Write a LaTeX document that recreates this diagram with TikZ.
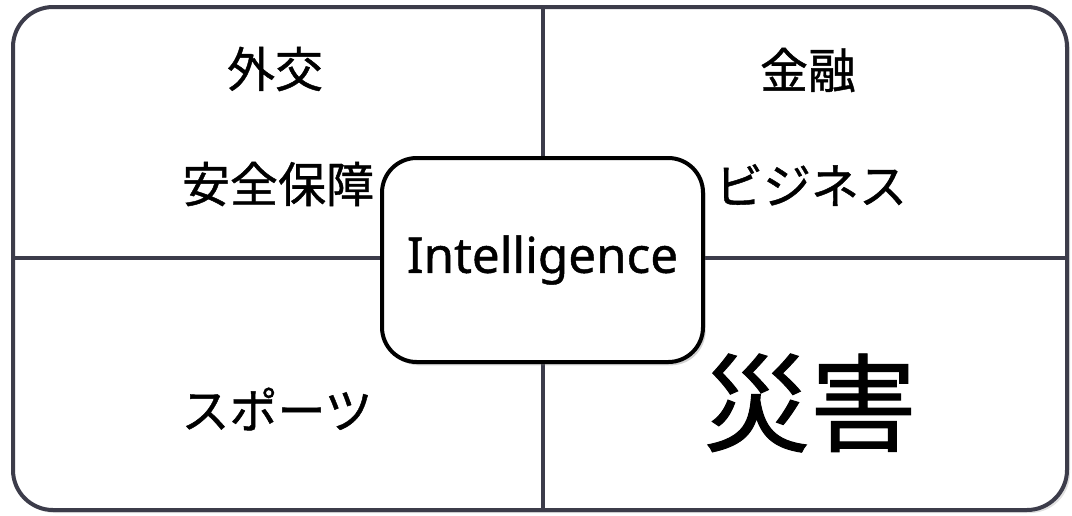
\documentclass[tikz,border=0pt]{standalone}
\usepackage{fontspec}
\setmainfont{Noto Sans CJK JP}[FakeBold=0.9]
\newfontfamily\latinfont{Noto Sans}[FakeBold=0.9]
\usetikzlibrary{shadows}
\definecolor{gridline}{HTML}{3C3C4A}
\tikzset{
  px/.style={x=0.75pt,y=-0.75pt},
  gridstroke/.style={draw=gridline,line width=3pt},
  label/.style={inner sep=0pt,font=\fontsize{36}{40}\selectfont},
  centerbox/.style={draw=black,line width=3pt,fill=white,rounded corners=26pt,
    drop shadow={opacity=0.35,shadow xshift=2pt,shadow yshift=-2.5pt}}
}
\begin{document}
\begin{tikzpicture}[px]
\useasboundingbox (0,0) rectangle (1072,515);
% outer frame
\coordinate (tl) at (13,7);
\coordinate (br) at (1067,510);
\fill[gray!60,opacity=0.4,rounded corners=30pt] (15,10) rectangle (1070,513);
\draw[gridstroke,fill=white,rounded corners=30pt] (tl) rectangle (br);
% dividers
\coordinate (vt) at (543,7);
\coordinate (vb) at (543,510);
\coordinate (hl) at (13,258);
\coordinate (hr) at (1067,258);
\draw[gridstroke] (vt) -- (vb);
\draw[gridstroke] (hl) -- (hr);
% center box
\node[centerbox,minimum width=240.75pt,minimum height=153pt,
  font=\latinfont\fontsize{37}{40}\selectfont] (intel) at (542.5,260) {Intelligence};
% labels
\node[label] (gaiko) at (275,69) {外交};
\node[label] (anzen) at (278,184) {安全保障};
\node[label] (kinyu) at (808,70) {金融};
\node[label] (biz) at (811,185) {ビジネス};
\node[label] (sports) at (277,409) {スポーツ};
\node[inner sep=0pt,font=\fontsize{80}{90}\selectfont] (saigai) at (810,403) {災害};
\end{tikzpicture}
\end{document}
